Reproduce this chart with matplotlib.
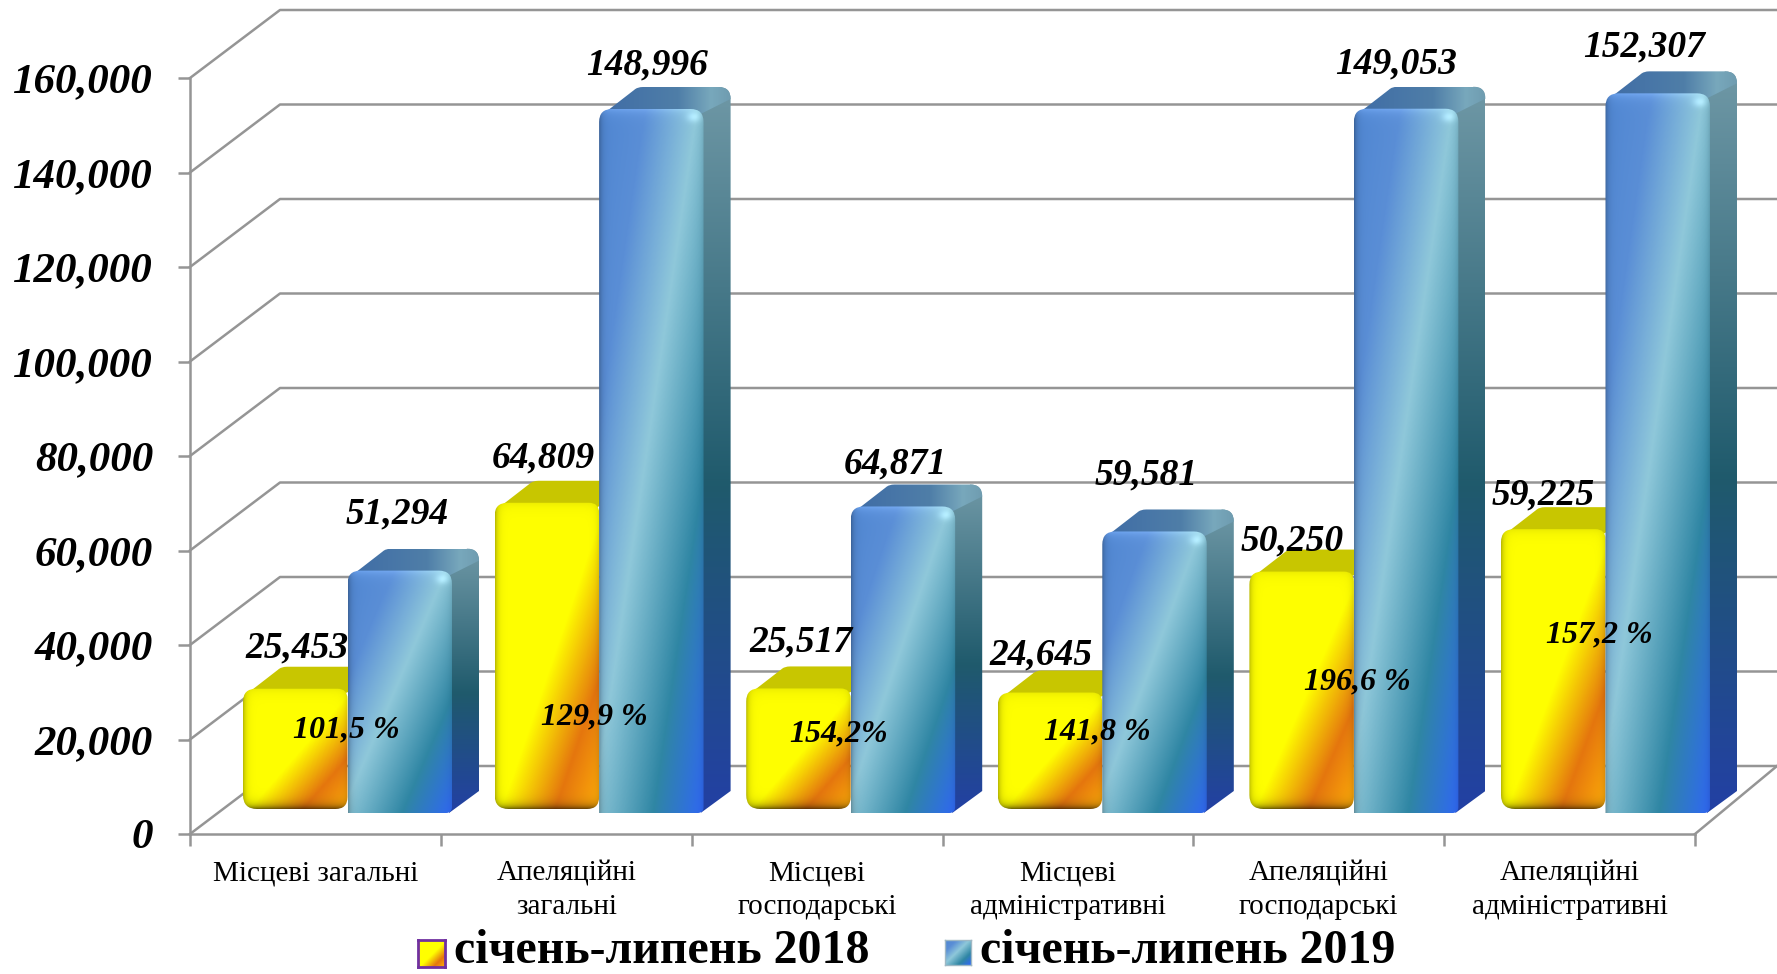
#!/usr/bin/env python3

import numpy as np
import matplotlib
matplotlib.use("Agg")
import matplotlib.pyplot as plt
from matplotlib.colors import LinearSegmentedColormap
from matplotlib.path import Path
from matplotlib.patches import PathPatch

CATEGORIES = [
    "Місцеві загальні",
    "Апеляційні\nзагальні",
    "Місцеві\nгосподарські",
    "Місцеві\nадміністративні",
    "Апеляційні\nгосподарські",
    "Апеляційні\nадміністративні",
]
VALUES_2018 = [25453, 64809, 25517, 24645, 50250, 59225]
VALUES_2019 = [51294, 148996, 64871, 59581, 149053, 152307]
PERCENTS = ["101,5 %", "129,9 %", "154,2%", "141,8 %", "196,6 %", "157,2 %"]
SERIES_NAMES = ["січень-липень 2018", "січень-липень 2019"]
Y_TICKS = [0, 20000, 40000, 60000, 80000, 100000, 120000, 140000, 160000]

# figure layout, in pixels of the 1777x974 image
W, H = 1777, 974
AX_LEFT, AX_RIGHT, AX_BOTTOM, AX_TOP = 190, 1695, 834, 78
PX_X = 6.0 / (AX_RIGHT - AX_LEFT)
PX_Y = 160000.0 / (AX_BOTTOM - AX_TOP)

WALL_DX, WALL_DY = 90, 68
GROUP_STEP = 251.6
BAR_OFFSET = 53
BAR_WIDTH = 104.5
BASE_2018 = 25
BASE_2019 = 21
BAR_DX, BAR_DY = 27, 22

# label placement relative to bar centre and top, pixels
LABEL_DX_2018 = [2, -4, 3, -9, -10, -10]
LABEL_UP_2018 = [41, 45, 46, 38, 31, 34]
LABEL_DX_2019 = [-3, -4, -8, -8, -10, -14]
LABEL_UP_2019 = [57, 44, 43, 56, 45, 46]
PCT_DX = [-1, -5, -12, -5, 3, -6]
PCT_UP = [104, 117, 100, 102, 152, 199]

GRID_COLOR = "#959595"
FONT = "Liberation Serif"

cmap_yellow = LinearSegmentedColormap.from_list(
    "yellow", [(0, "#ffff00"), (0.53, "#ffff00"), (0.79, "#e5760e"), (1, "#ffae08")]
)
cmap_blue = LinearSegmentedColormap.from_list(
    "blue",
    [(0, "#4f86d2"), (0.22, "#5a8ed6"), (0.47, "#8fc8da"), (0.76, "#2f86a4"), (1, "#3068f4")],
)
cmap_side = LinearSegmentedColormap.from_list(
    "side", [(0, "#6f98a6"), (0.55, "#1f5a6c"), (1, "#2340a4")]
)
cmap_top = LinearSegmentedColormap.from_list(
    "top", [(0, "#3f6ca6"), (0.6, "#4f7ea8"), (0.85, "#78a8bc"), (1, "#6f9cb0")]
)


def rounded_path(x0, x1, y0, y1, tl, tr, br, bl):
    # rounded rectangle in data units, corner radii given in pixels
    verts = [(x0, y0 + bl * PX_Y), (x0, y1 - tl * PX_Y)]
    codes = [Path.MOVETO, Path.LINETO]
    verts += [(x0, y1), (x0 + tl * PX_X, y1), (x1 - tr * PX_X, y1)]
    codes += [Path.CURVE3, Path.CURVE3, Path.LINETO]
    verts += [(x1, y1), (x1, y1 - tr * PX_Y), (x1, y0 + br * PX_Y)]
    codes += [Path.CURVE3, Path.CURVE3, Path.LINETO]
    verts += [(x1, y0), (x1 - br * PX_X, y0), (x0 + bl * PX_X, y0)]
    codes += [Path.CURVE3, Path.CURVE3, Path.LINETO]
    verts += [(x0, y0), (x0, y0 + bl * PX_Y), (x0, y0 + bl * PX_Y)]
    codes += [Path.CURVE3, Path.CURVE3, Path.CLOSEPOLY]
    return Path(verts, codes)


def paint(ax, rgb, x0, x1, y0, y1, path):
    im = ax.imshow(rgb, extent=(x0, x1, y0, y1), origin="upper", aspect="auto",
                   interpolation="bilinear", zorder=3)
    im.set_clip_box(ax.figure.bbox)
    im.set_clip_path(path, transform=ax.transData)


def front_pixels(cmap, w, h, yellow):
    u, v = np.meshgrid(np.linspace(0, 1, w), np.linspace(0, 1, h))
    rgb = cmap((u + v) / 2.0)[..., :3]
    xp, yp = np.meshgrid(np.arange(w) + 0.5, np.arange(h) + 0.5)
    left = np.exp(-xp / 3.0)
    right = np.exp(-(w - xp) / 3.0)
    top = np.exp(-yp / 5.0)
    bottom = np.exp(-(h - yp) / 4.0)
    if yellow:
        shade = 1 - 0.3 * left - 0.15 * right - 0.08 * top - 0.6 * bottom
    else:
        shade = 1 - 0.3 * left - 0.12 * right
        rgb = rgb + (0.12 * top)[..., None]
        glint = np.exp(-(((xp - (w - 10)) / 7.0) ** 2 + ((yp - 9) / 5.0) ** 2))
        rgb = rgb + (0.14 * glint)[..., None]
    return np.clip(rgb * shade[..., None], 0, 1)


def draw_bar(ax, left_px, value, base_px, yellow):
    x0 = left_px * PX_X
    x1 = (left_px + BAR_WIDTH) * PX_X
    y0 = base_px * PX_Y
    y1 = y0 + value
    dx, dy = BAR_DX * PX_X, BAR_DY * PX_Y
    h_px = max(int(value / PX_Y), 4)

    # side face
    side_verts = [
        (x1 - 3 * PX_X, y0),
        (x1 + dx, y0 + dy),
        (x1 + dx, y1 + dy - 12 * PX_Y),
        (x1 + dx, y1 + dy),
        (x1 + dx - 12 * PX_X, y1 + dy),
        (x1 - 3 * PX_X, y1),
        (x1 - 3 * PX_X, y0),
    ]
    side_codes = [Path.MOVETO, Path.LINETO, Path.LINETO, Path.CURVE3, Path.CURVE3,
                  Path.LINETO, Path.CLOSEPOLY]
    grad = cmap_side(np.linspace(0, 1, 256))[:, None, :3]
    if not yellow:
        paint(ax, grad, x1 - 3 * PX_X, x1 + dx, y0, y1 + dy, Path(side_verts, side_codes))

    # top face, with the back corners rounded
    back = 38 * PX_X
    top_codes = [Path.MOVETO, Path.LINETO, Path.CURVE3, Path.CURVE3, Path.LINETO,
                 Path.CURVE3, Path.CURVE3, Path.LINETO, Path.CLOSEPOLY]
    top_verts = [
        (x0 + 4 * PX_X, y1 - 5 * PX_Y),
        (x0 + back - 3 * PX_X, y1 + dy - 3 * PX_Y),
        (x0 + back, y1 + dy),
        (x0 + back + 6 * PX_X, y1 + dy),
        (x1 + dx - 12 * PX_X, y1 + dy),
        (x1 + dx, y1 + dy),
        (x1 + dx, y1 + dy - 12 * PX_Y),
        (x1 - 3 * PX_X, y1 - 5 * PX_Y),
        (x0 + 4 * PX_X, y1 - 5 * PX_Y),
    ]
    top_path = Path(top_verts, top_codes)
    if yellow:
        ax.add_patch(PathPatch(top_path, facecolor="#c8c600", edgecolor="none", zorder=3))
    else:
        grad = cmap_top(np.linspace(0, 1, 256))[None, :, :3]
        paint(ax, grad, x0, x1 + dx, y1 - 5 * PX_Y, y1 + dy, top_path)

    # front face
    rgb = front_pixels(cmap_yellow if yellow else cmap_blue, int(BAR_WIDTH), h_px, yellow)
    if yellow:
        path = rounded_path(x0, x1, y0, y1, 13, 10, 12, 14)
    else:
        path = rounded_path(x0, x1, y0, y1, 13, 13, 6, 0)
    paint(ax, rgb, x0, x1, y0, y1, path)


def swatch(fig, box, cmap, edge, lw):
    left, top, width, height = box
    sub = fig.add_axes([left / W, 1 - (top + height) / H, width / W, height / H])
    u, v = np.meshgrid(np.linspace(0, 1, 40), np.linspace(0, 1, 40))
    sub.imshow(cmap((u + v) / 2.0)[..., :3], aspect="auto")
    sub.set_xticks([])
    sub.set_yticks([])
    for spine in sub.spines.values():
        spine.set_color(edge)
        spine.set_linewidth(lw)


def main():
    plt.rcParams["font.family"] = [FONT, "DejaVu Serif"]
    fig = plt.figure(figsize=(W / 100, H / 100), dpi=100)
    ax = fig.add_axes([
        AX_LEFT / W,
        1 - AX_BOTTOM / H,
        (AX_RIGHT - AX_LEFT) / W,
        (AX_BOTTOM - AX_TOP) / H,
    ])
    ax.patch.set_visible(False)

    # walls and floor
    wall_x = WALL_DX * PX_X
    wall_y = WALL_DY * PX_Y
    right_end = 6 + (W - AX_RIGHT) * PX_X
    for tick in Y_TICKS:
        ax.plot([0, wall_x, right_end], [tick, tick + wall_y, tick + wall_y],
                color=GRID_COLOR, lw=1.8, clip_on=False, zorder=1)
    ax.plot([6, right_end], [0, wall_y], color=GRID_COLOR, lw=1.8, clip_on=False, zorder=1)

    for i in range(len(CATEGORIES)):
        left = BAR_OFFSET + i * GROUP_STEP
        draw_bar(ax, left, VALUES_2018[i], BASE_2018, True)
        draw_bar(ax, left + BAR_WIDTH, VALUES_2019[i], BASE_2019, False)

        centre = (left + BAR_WIDTH / 2 + LABEL_DX_2018[i]) * PX_X
        top = BASE_2018 * PX_Y + VALUES_2018[i]
        ax.text(centre, top + LABEL_UP_2018[i] * PX_Y, f"{VALUES_2018[i]:,}", ha="center",
                va="center", fontsize=27, fontweight="bold", fontstyle="italic", zorder=5)

        centre = (left + 1.5 * BAR_WIDTH + LABEL_DX_2019[i]) * PX_X
        top = BASE_2019 * PX_Y + VALUES_2019[i]
        ax.text(centre, top + LABEL_UP_2019[i] * PX_Y, f"{VALUES_2019[i]:,}", ha="center",
                va="center", fontsize=27, fontweight="bold", fontstyle="italic", zorder=5)

        ax.text((left + BAR_WIDTH + PCT_DX[i]) * PX_X, PCT_UP[i] * PX_Y, PERCENTS[i],
                ha="center", va="center", fontsize=23, fontweight="bold",
                fontstyle="italic", zorder=5)

    ax.set_xlim(0, 6)
    ax.set_ylim(0, 160000)

    ax.spines["top"].set_visible(False)
    ax.spines["right"].set_visible(False)
    for name in ("left", "bottom"):
        ax.spines[name].set_color(GRID_COLOR)
        ax.spines[name].set_linewidth(1.8)

    ax.set_yticks(Y_TICKS)
    ax.set_yticklabels([f"{t:,}" for t in Y_TICKS], fontsize=31, fontweight="bold",
                       fontstyle="italic")
    ax.tick_params(axis="y", length=8.6, width=1.8, color=GRID_COLOR, pad=18)
    ax.set_xticks(range(7))
    ax.set_xticklabels([])
    ax.tick_params(axis="x", which="major", length=8.6, width=1.8, color=GRID_COLOR)
    ax.set_xticks(np.arange(len(CATEGORIES)) + 0.5, minor=True)
    ax.set_xticklabels(CATEGORIES, minor=True, fontsize=21, linespacing=1.36)
    ax.tick_params(axis="x", which="minor", length=0, pad=19)

    # legend, built by hand because of the gradient swatches
    swatch(fig, (418, 940, 27, 27), cmap_yellow, "#7030a0", 2.0)
    swatch(fig, (945, 940, 26, 25), cmap_blue, "#9fb8c4", 1.0)
    fig.text(454 / W, 1 - 951 / H, SERIES_NAMES[0], fontsize=34.5, fontweight="bold",
             ha="left", va="center")
    fig.text(980 / W, 1 - 951 / H, SERIES_NAMES[1], fontsize=34.5, fontweight="bold",
             ha="left", va="center")

    fig.savefig("out.png", dpi=100)
    plt.close(fig)


if __name__ == "__main__":
    main()
